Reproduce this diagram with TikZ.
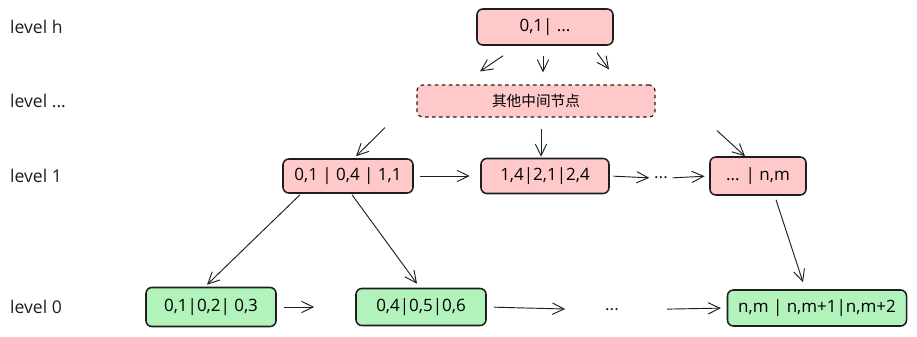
\documentclass[tikz,border=0pt]{standalone}
\usepackage{fontspec}
\setmainfont{Open Sans}
\newfontfamily\cjk{Noto Sans CJK SC}
\usetikzlibrary{positioning,arrows.meta,calc}
\definecolor{nodepink}{HTML}{FFC9C9}
\definecolor{nodegreen}{HTML}{B2F2BB}
\definecolor{inkdark}{HTML}{1E1E1E}
\tikzset{
  fig/.style={font=\fontsize{14.5}{17}\selectfont,x=0.03cm,y=-0.03cm},
  box/.style={draw=inkdark,line width=1.3pt,rounded corners=5pt,align=center,
              inner sep=2pt,minimum width=3.9cm,minimum height=1.05cm},
  pinkbox/.style={box,fill=nodepink},
  greenbox/.style={box,fill=nodegreen},
  midbox/.style={box,fill=nodepink,dashed,line width=1pt,minimum width=7.14cm,
                 minimum height=0.96cm,font=\cjk\fontsize{12.5}{14}\selectfont},
  ln/.style={-{Straight Barb[length=3.5mm,width=3.4mm]},draw=inkdark,line width=0.8pt},
  lvl/.style={font=\fontsize{15}{18}\selectfont,anchor=west,inner sep=0pt,text=inkdark},
  dots/.style={inner sep=1pt,text=inkdark},
}
\begin{document}
\begin{tikzpicture}[fig]
\useasboundingbox (0,0) rectangle (917,337);

% level labels
\node[lvl] (lh) at (10,27)  {level h};
\node[lvl] (lm) at (10,101) {level ...};
\node[lvl] (l1) at (10,176) {level 1};
\node[lvl] (l0) at (10,307) {level 0};

% nodes
\node[pinkbox,minimum width=4.08cm,minimum height=1.08cm] (top) at (545,27) {0,1| ...};
\node[midbox] (mid) at (536,101) {其他中间节点};

\node[pinkbox,minimum height=1.02cm] (a) at (348,176) {0,1 | 0,4 | 1,1};
\node[pinkbox,minimum width=3.84cm] (b) at (545,176) {1,4|2,1|2,4};
\node[dots] (d1) at (661,178) {...};
\node[pinkbox,minimum width=2.88cm,minimum height=1.14cm] (c) at (758,176) {... | n,m};

\node[greenbox,minimum height=1.17cm] (d) at (211,307) {0,1|0,2| 0,3};
\node[greenbox,minimum height=1.11cm] (e) at (421,307) {0,4|0,5|0,6};
\node[dots] (d2) at (612,310) {...};
\node[greenbox,minimum width=5.37cm,minimum height=1.08cm] (f) at (817,308) {n,m | n,m+1|n,m+2};

% level h to the middle levels
\draw[ln] ($(top.south)+(-42,10)$) -- ($(mid.north)+(-56,-13)$);
\draw[ln] ($(top.south)+(-2,10)$)  -- ($(mid.north)+(7,-12)$);
\draw[ln] ($(top.south)+(52,7)$)   -- ($(mid.north)+(73,-15)$);

% middle levels to level 1
\draw[ln] ($(mid.south)+(-151,10)$) -- ($(a.north)+(8,-2)$);
\draw[ln] ($(mid.south)+(5,11)$)    -- ($(b.north)+(-4,-1)$);
\draw[ln] ($(mid.south)+(181,13)$)  -- ($(c.north)+(-13,0)$);

% siblings on level 1
\draw[ln,shorten <=5pt,shorten >=9pt] (a.east) -- (b.west);
\draw[ln,shorten <=3pt,shorten >=3pt] (b.east) -- (d1.west);
\draw[ln,shorten <=3pt,shorten >=4pt] (d1.east) -- (c.west);

% level 1 to leaves
\draw[ln] ($(a.south)+(-48,1)$) -- ($(d.north)+(-4,-2)$);
\draw[ln] ($(a.south)+(4,1)$)   -- ($(e.north)+(-4,-4)$);
\draw[ln] ($(c.south)+(18,4)$)  -- ($(f.north)+(-14,-7)$);

% leaves
\draw[ln,shorten <=6pt,shorten >=35pt] (d.east) -- (e.west);
\draw[ln,shorten <=6pt,shorten >=33pt] (e.east) -- (d2.west);
\draw[ln,shorten <=40pt,shorten >=5pt] (d2.east) -- (f.west);

\end{tikzpicture}
\end{document}
